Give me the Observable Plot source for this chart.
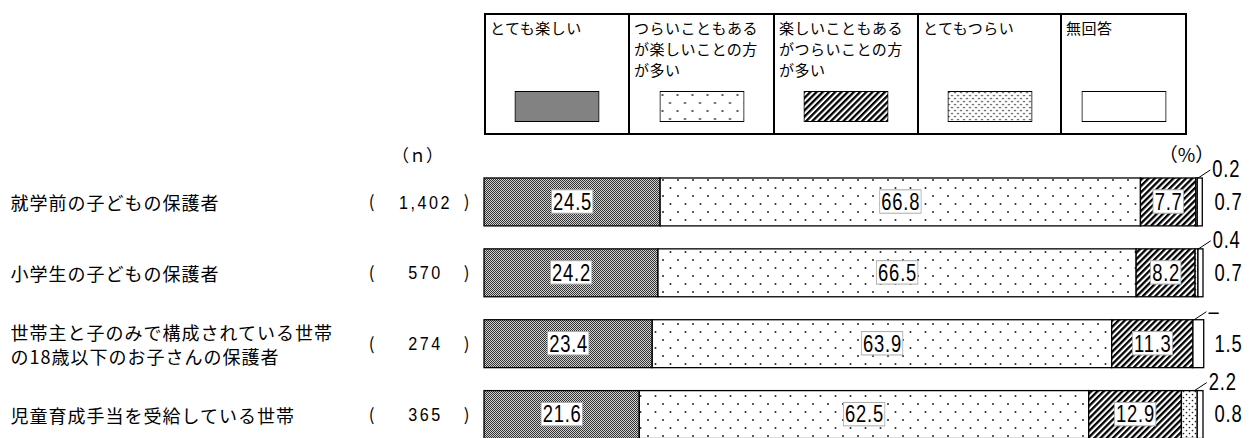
<!DOCTYPE html>
<html><head><meta charset="utf-8">
<script src="https://cdn.jsdelivr.net/npm/d3@7"></script>
<script src="https://cdn.jsdelivr.net/npm/@observablehq/plot@0.6"></script>
<style>
html,body{margin:0;padding:0;background:#fff;overflow:hidden;width:1254px;height:438px;}
#wrap{position:relative;width:1254px;height:438px;}
#wrap > svg{position:absolute;left:0;top:0;}
#legend{position:absolute;left:484px;top:13px;width:699px;height:118px;border:2px solid #000;display:flex;font-family:"Noto Sans CJK JP",sans-serif;font-size:15px;line-height:21px;letter-spacing:0.5px;color:#000;z-index:2;background:#fff;}
.cell{position:relative;height:100%;box-sizing:border-box;padding:2px 0 0 4px;white-space:pre-line;}
.cell+.cell{border-left:2px solid #000;}
.cell svg{position:absolute;bottom:11px;left:50%;transform:translateX(-50%);}
.vlab text,.olab text{letter-spacing:1px;}
.nlab text{letter-spacing:3px;}
.glab text{letter-spacing:1px;}
</style>
</head><body>
<svg width="0" height="0" style="position:absolute">
  <defs>
    <pattern id="pVeryFun" patternUnits="userSpaceOnUse" width="2" height="2">
      <rect width="2" height="2" fill="#d0d0d0"/>
      <rect x="0" y="0" width="1" height="1" fill="#333"/>
      <rect x="1" y="1" width="1" height="1" fill="#333"/>
    </pattern>
    <pattern id="pMoreFun" patternUnits="userSpaceOnUse" width="15" height="16">
      <rect width="15" height="16" fill="#fff"/>
      <circle cx="3" cy="4" r="1" fill="#222"/>
      <circle cx="10.5" cy="12" r="1" fill="#222"/>
    </pattern>
    <pattern id="pMoreHard" patternUnits="userSpaceOnUse" width="4.4" height="4.4" patternTransform="rotate(45)">
      <rect width="4.4" height="4.4" fill="#fff"/>
      <rect x="0" y="0" width="2.3" height="4.4" fill="#000"/>
    </pattern>
    <pattern id="pVeryHard" patternUnits="userSpaceOnUse" width="6" height="6">
      <rect width="6" height="6" fill="#fff"/>
      <circle cx="1.5" cy="1.5" r="0.85" fill="#222"/>
      <circle cx="4.5" cy="4.5" r="0.85" fill="#222"/>
    </pattern>
  </defs>
</svg>
<div id="wrap"><div id="legend"></div></div>
<script>
// ---- data ----
const groups = [
  "就学前の子どもの保護者",
  "小学生の子どもの保護者",
  "世帯主と子のみで構成されている世帯\nの18歳以下のお子さんの保護者",
  "児童育成手当を受給している世帯"
];
const nValues = ["1,402", "570", "274", "365"];
const seriesNames = [
  "とても楽しい",
  "つらいこともある\nが楽しいことの方\nが多い",
  "楽しいこともある\nがつらいことの方\nが多い",
  "とてもつらい",
  "無回答"
];
const veryFun         = [24.5, 24.2, 23.4, 21.6];
const moreFunThanHard = [66.8, 66.5, 63.9, 62.5];
const moreHardThanFun = [7.7, 8.2, 11.3, 12.9];
const veryHard        = [0.2, 0.4, 0, 2.2];
const noAnswer        = [0.7, 0.7, 1.5, 0.8];

// ---- styles ----
const patterns = ["url(#pVeryFun)", "url(#pMoreFun)", "url(#pMoreHard)", "url(#pVeryHard)", "#fff"];
const NUM = '"Liberation Sans",Arial,sans-serif';
const CJK = '"Noto Sans CJK JP",sans-serif';
const half = 0.338;

const seriesValues = [veryFun, moreFunThanHard, moreHardThanFun, veryHard, noAnswer];
const segs = [];
groups.forEach((g, i) => {
  let c = 0;
  seriesValues.forEach((arr, s) => {
    const v = arr[i];
    segs.push({i, s, v, x1: c, x2: c + v});
    c += v;
  });
});
const inside = segs.filter(d => d.s < 3);
const naSegs = segs.filter(d => d.s === 4);
const lead = segs.filter(d => d.s === 3).map(d => {
  const xa = d.x2 - 0.25 * d.v;
  return {...d, xa, xb: xa + 1.8, ya: d.i - half, yb: d.i - half - 0.12};
});
const rows = groups.map((g, i) => ({i, g, n: nValues[i]}));

// ---- legend ----
const legend = document.getElementById("legend");
const widths = [142, 145, 144, 143, 125];
seriesNames.forEach((name, s) => {
  const cell = document.createElement("div");
  cell.className = "cell";
  cell.style.width = widths[s] + "px";
  cell.textContent = name;
  const sw = document.createElementNS("http://www.w3.org/2000/svg", "svg");
  sw.setAttribute("width", 85); sw.setAttribute("height", 31);
  const r = document.createElementNS("http://www.w3.org/2000/svg", "rect");
  r.setAttribute("x", 0.5); r.setAttribute("y", 0.5);
  r.setAttribute("width", 84); r.setAttribute("height", 30);
  r.setAttribute("fill", patterns[s]); r.setAttribute("stroke", "#000");
  sw.appendChild(r);
  cell.appendChild(sw);
  legend.appendChild(cell);
});

// ---- chart ----
const plot = Plot.plot({
  width: 1254, height: 450,
  marginLeft: 484, marginRight: 51, marginTop: 166.5, marginBottom: 0,
  x: {domain: [0, 100], axis: null},
  y: {domain: [3.5, -0.5], axis: null},
  color: {type: "identity"},
  style: {background: "transparent", overflow: "visible"},
  marks: [
    Plot.rect(segs.filter(d => d.v > 0), {
      x1: "x1", x2: "x2", y1: d => d.i - half, y2: d => d.i + half,
      fill: d => patterns[d.s], stroke: "#000", strokeWidth: 1.3
    }),
    Plot.text(inside, {
      x: d => (d.x1 + d.x2) / 2, y: "i", text: d => d.v.toFixed(1),
      fontSize: 23, fontFamily: NUM, fill: "#000", className: "vlab"
    }),
    Plot.text(naSegs, {
      x: 100, y: "i", dx: 25, text: d => d.v.toFixed(1),
      fontSize: 23, fontFamily: NUM, fill: "#000", className: "olab"
    }),
    Plot.link(lead, {x1: "xa", y1: "ya", x2: "xb", y2: "yb", stroke: "#000", strokeWidth: 1}),
    Plot.text(lead, {
      x: "xb", y: "yb", dx: 2, textAnchor: "start",
      text: d => d.v > 0 ? d.v.toFixed(1) : "–",
      fontSize: 23, fontFamily: NUM, fill: "#000", className: "olab"
    }),
    Plot.text(rows, {
      x: 0, y: "i", dx: -474, textAnchor: "start", text: "g",
      fontSize: 18, lineHeight: 1.35, fontFamily: CJK, fill: "#000", className: "glab"
    }),
    Plot.text(rows, {x: 0, y: "i", dx: -113, text: () => "(", fontSize: 17, fontFamily: CJK, fill: "#000"}),
    Plot.text(rows, {x: 0, y: "i", dx: -59, text: "n", fontSize: 19, fontFamily: NUM, fill: "#000", className: "nlab"}),
    Plot.text(rows, {x: 0, y: "i", dx: -18, text: () => ")", fontSize: 17, fontFamily: CJK, fill: "#000"}),
    Plot.text([{t: "（ｎ）"}], {x: 0, y: 0, dx: -67, dy: -46, text: "t", fontSize: 17, fontFamily: CJK, fill: "#000"}),
    Plot.text([{t: "（%）"}], {x: 100, y: 0, dx: -17, dy: -47, text: "t", fontSize: 19, fontFamily: CJK, fill: "#000"})
  ]
});
document.getElementById("wrap").appendChild(plot);

// condense the numeric labels horizontally (narrow digit look)
function condense(sel, k) {
  d3.select(plot).selectAll(sel).each(function() {
    const t = this.getAttribute("transform") || "";
    this.setAttribute("transform", t + ` scale(${k},1)`);
  });
}
condense(".vlab text", 0.8);
condense(".olab text", 0.8);
condense(".nlab text", 0.85);

// white boxes behind the in-bar value labels
const vg = plot.querySelector(".vlab") || plot.querySelectorAll('g[aria-label="text"]')[0];
d3.select(vg).selectAll("text").each(function() {
  const bb = this.getBBox();
  d3.select(this.parentNode).insert("rect", () => this)
    .attr("x", bb.x - 2).attr("y", bb.y + 1)
    .attr("width", bb.width + 3).attr("height", bb.height - 2)
    .attr("transform", this.getAttribute("transform"))
    .attr("fill", "#fff").attr("stroke", "#aaa").attr("stroke-width", 1);
});
</script>
</body></html>
